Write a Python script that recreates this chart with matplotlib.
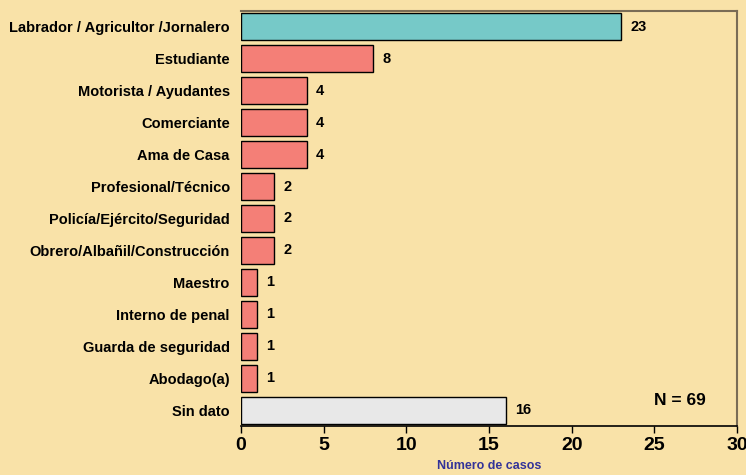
import matplotlib
matplotlib.use("Agg")
import matplotlib.pyplot as plt

plt.rcParams['font.family'] = ['Liberation Sans', 'DejaVu Sans']

#Data
categories = ["Labrador / Agricultor /Jornalero", "Estudiante", "Motorista / Ayudantes",
              "Comerciante", "Ama de Casa", "Profesional/Técnico",
              "Policía/Ejército/Seguridad", "Obrero/Albañil/Construcción", "Maestro",
              "Interno de penal", "Guarda de seguridad", "Abodago(a)", "Sin dato"]
values = [23, 8, 4, 4, 4, 2, 2, 2, 1, 1, 1, 1, 16]
xticks = [0, 5, 10, 15, 20, 25, 30]

bg = '#F9E2A8'
colors = ['#76C9C8'] + ['#F47F77'] * 11 + ['#E8E8E8']

fig = plt.figure(figsize=(7.46, 4.75), dpi=100, facecolor=bg)
ax = fig.add_axes([0.323, 0.103, 0.665, 0.874], facecolor=bg)

pos = list(range(len(categories)))
ax.barh(pos, values, height=0.84, color=colors, edgecolor='black', linewidth=1.0, zorder=2)

for p, v in zip(pos, values):
    ax.text(v + 0.55, p, str(v), va='center', ha='left', fontsize=10.5, fontweight='bold')

ax.set_xlim(0, 30)
ax.set_ylim(12.5, -0.5)
ax.set_yticks(pos)
ax.set_yticklabels(categories, fontsize=10.5, fontweight='bold')
ax.set_xticks(xticks)
ax.set_xticklabels([str(t) for t in xticks], fontsize=14, fontweight='bold')
ax.tick_params(axis='y', length=0, pad=8)
ax.tick_params(axis='x', length=5, width=1, pad=3, color='black')

ax.spines['left'].set_visible(False)
ax.spines['bottom'].set_color('black')
ax.spines['bottom'].set_linewidth(1.2)
for s in ['top', 'right']:
    ax.spines[s].set_color('#7A6C55')
    ax.spines[s].set_linewidth(1.5)

ax.set_xlabel("Número de casos", fontsize=9, fontweight='bold', color='#333399', labelpad=4)
ax.text(28.1, 11.7, "N = 69", ha='right', va='center', fontsize=12.5, fontweight='bold')

fig.savefig("out.png", dpi=100, facecolor=bg)
